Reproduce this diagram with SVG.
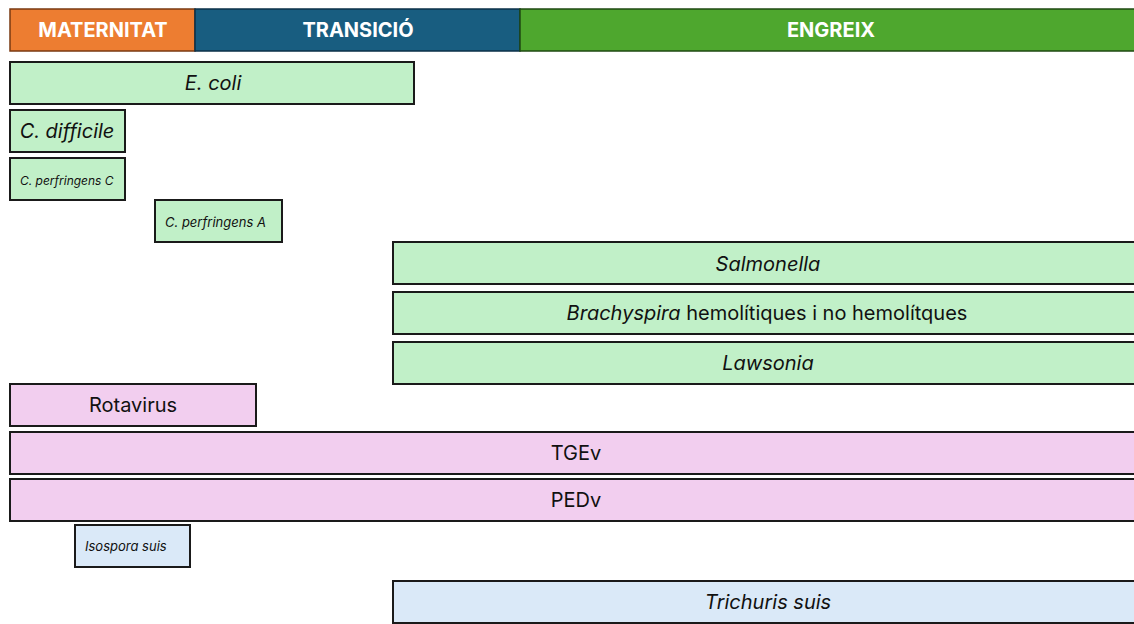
<svg xmlns="http://www.w3.org/2000/svg" width="1134" height="624" viewBox="0 0 1134 624">
<style>
text{font-family:Inter,"Liberation Sans",sans-serif;fill:#111;text-anchor:middle;dominant-baseline:central;font-size:20px}
.h{fill:#fff;font-weight:bold;font-size:20px}
.box{stroke:#1a1a1a;stroke-width:2}
.g{fill:#c1f0c8}.p{fill:#f2ceef}.b{fill:#dae9f8}
.i{font-style:italic}
.s{text-anchor:start}
.f12{font-size:12px}.f13{font-size:13px}
</style>
<rect width="1134" height="624" fill="#fff"/>
<g id="maternitat"><rect x="10" y="9" width="185" height="42" fill="#ed7d31" stroke="#7a3a12" stroke-width="1.5"/><text class="h" x="103" y="30">MATERNITAT</text></g>
<g id="transicio"><rect x="195" y="9" width="325" height="42" fill="#185d80" stroke="#0b3048" stroke-width="1.5"/><text class="h" x="358" y="30">TRANSICIÓ</text></g>
<g id="engreix"><rect x="520" y="9" width="620" height="42" fill="#4ea72e" stroke="#1f4a12" stroke-width="1.5"/><text class="h" x="831" y="30">ENGREIX</text></g>
<g id="ecoli"><rect class="box g" x="10" y="62" width="404" height="42"/><text class="i" x="213" y="83">E. coli</text></g>
<g id="cdifficile"><rect class="box g" x="10" y="110" width="115" height="42"/><text class="i" x="67" y="131">C. difficile</text></g>
<g id="cperfC"><rect class="box g" x="10" y="158" width="115" height="42"/><text class="i s f12" x="20" y="180">C. perfringens C</text></g>
<g id="cperfA"><rect class="box g" x="155" y="200" width="127" height="42"/><text class="i s f13" x="165" y="222">C. perfringens A</text></g>
<g id="salmonella"><rect class="box g" x="393" y="242" width="750" height="42"/><text class="i" x="768" y="264">Salmonella</text></g>
<g id="brachyspira"><rect class="box g" x="393" y="292" width="750" height="42"/><text x="767" y="313"><tspan font-style="italic">Brachyspira</tspan> hemolítiques i no hemolítques</text></g>
<g id="lawsonia"><rect class="box g" x="393" y="342" width="750" height="42"/><text class="i" x="768" y="363">Lawsonia</text></g>
<g id="rotavirus"><rect class="box p" x="10" y="384" width="246" height="42"/><text x="133" y="405">Rotavirus</text></g>
<g id="tgev"><rect class="box p" x="10" y="432" width="1130" height="42"/><text x="576" y="453">TGEv</text></g>
<g id="pedv"><rect class="box p" x="10" y="479" width="1130" height="42"/><text x="576" y="500">PEDv</text></g>
<g id="isospora"><rect class="box b" x="75" y="525" width="115" height="42"/><text class="i s f13" x="85" y="546">Isospora suis</text></g>
<g id="trichuris"><rect class="box b" x="393" y="581" width="750" height="42"/><text class="i" x="768" y="602">Trichuris suis</text></g>
<g id="connectors"/>
</svg>
